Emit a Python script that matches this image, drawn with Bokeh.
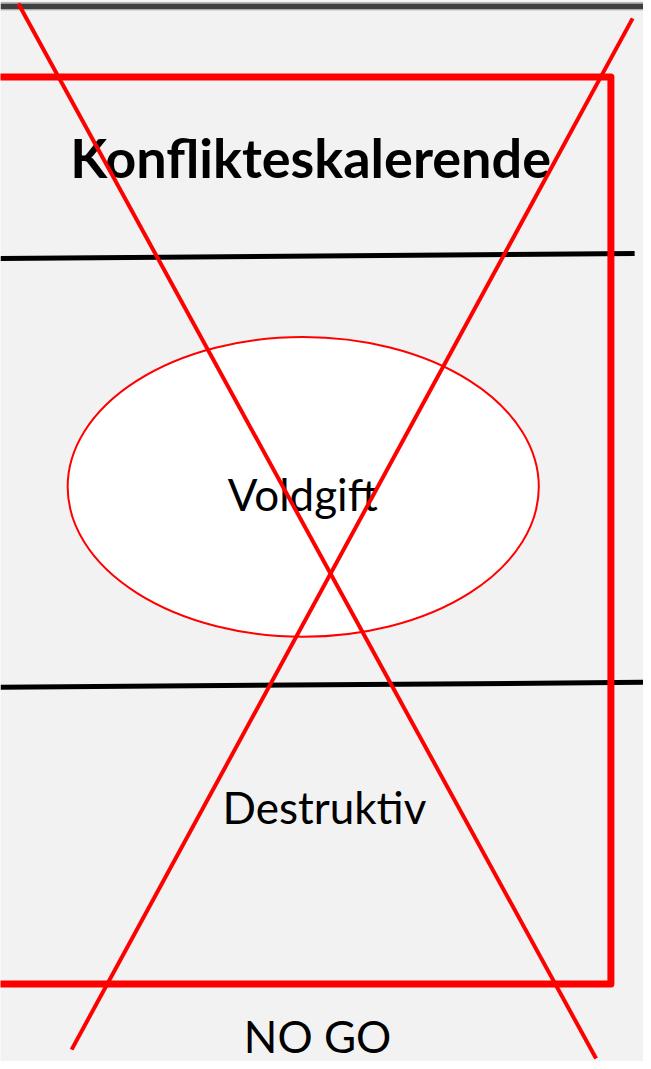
from bokeh.plotting import figure
from bokeh.models import Range1d
from bokeh.core.properties import value
from bokeh.embed import file_html
from bokeh.resources import INLINE

# ---- diagram data (reference pixel coordinates, y downward) ----
frame_x = [-20, 618, 618, -20]
frame_y = [77, 77, 991, 991]

cross_a_x = [18, 603]
cross_a_y = [3, 1066]
cross_b_x = [640, 72]
cross_b_y = [18, 1057]

divider1_x = [0, 642]
divider1_y = [260, 255]
divider2_x = [0, 651]
divider2_y = [692, 687]

ellipse_cx = [306.5]
ellipse_cy = [490]
ellipse_w = [477]
ellipse_h = [302]

title_text = ["Konflikteskalerende"]
title_x = [314]
title_y = [158]

labels = ["Voldgift", "Destruktiv", "NO GO"]
label_x = [306, 328, 321]
label_y = [497, 813, 1043]

W, H = 643, 1061
p = figure(width=W, height=H, output_backend="svg", toolbar_location=None,
           x_range=Range1d(0, 651), y_range=Range1d(1069, 0),
           min_border=0, min_border_left=0, min_border_right=0,
           min_border_top=0, min_border_bottom=0)
p.axis.visible = False
p.grid.visible = False
p.outline_line_color = None
p.background_fill_color = "#f2f2f2"
p.border_fill_color = "#f2f2f2"

# top bar
p.line([0, 651], [6, 6], line_color="#404040", line_width=6)
p.line([0, 651], [2, 2], line_color="#b8b8b8", line_width=1)
p.line([0, 651], [9.5, 9.5], line_color="#b8b8b8", line_width=1)

# dividers
p.line(divider1_x, divider1_y, line_color="black", line_width=5)
p.line(divider2_x, divider2_y, line_color="black", line_width=5)

# ellipse
p.ellipse(x=ellipse_cx, y=ellipse_cy, width=ellipse_w, height=ellipse_h,
          fill_color="white", line_color="#ff0000", line_width=2)

# labels
p.text(x=title_x, y=title_y, text=title_text, text_font=value("Lato"),
       text_font_size="54px", text_font_style="bold", text_align="center",
       text_baseline="alphabetic", text_color="black")
p.text(x=label_x, y=label_y, text=labels, text_font=value("Lato"),
       text_font_size="44px", text_align="center",
       text_baseline="alphabetic", text_color="black")

# red frame
p.line(frame_x, frame_y, line_color="#ff0000", line_width=7, line_join="round")

# red cross
p.line(cross_a_x, cross_a_y, line_color="#ff0000", line_width=4)
p.line(cross_b_x, cross_b_y, line_color="#ff0000", line_width=4)

open("out.html", "w").write(file_html(p, INLINE))
